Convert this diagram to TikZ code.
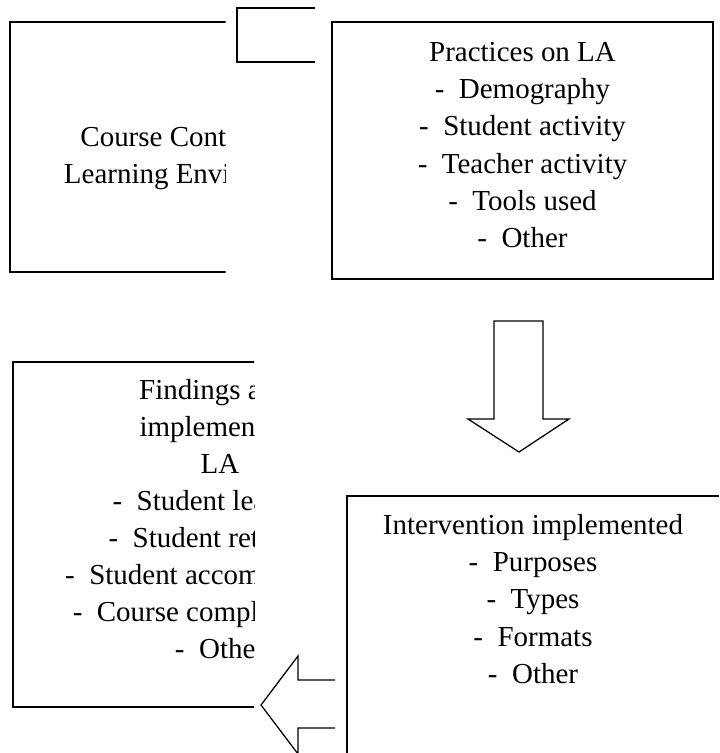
\documentclass[tikz,border=0pt]{standalone}
\usepackage{fontspec}
\setmainfont{Liberation Serif}
\newcommand{\dashitem}{-\hspace{0.5em}}

\begin{document}
\begin{tikzpicture}[x=0.025cm, y=-0.025cm,
  font=\fontsize{20.6pt}{26.4pt}\selectfont,
  box/.style={line width=1.4pt},
  blockarrow/.style={line width=0.9pt, line join=miter}]
\useasboundingbox (0,0) rectangle (719,753);

% context box, cut off on the right
\begin{scope}
\clip (0,0) rectangle (225.5,753);
\draw[box] (10,22) rectangle (388,272);
\node[align=center] (context) at (195.5,158) {Course Content and\\Learning Environment};
\end{scope}

% stub at the top
\draw[line width=1.8pt, black!45] (315,8) -- (237,8) -- (237,62) -- (315,62);
\draw[line width=0.9pt] (315,8) -- (237,8) -- (237,62) -- (315,62);

% practices box
\draw[box] (332,22) rectangle (713,279);
\node[align=center] (practices) at (522.5,145) {Practices on LA\\ \dashitem Demography\\ \dashitem Student activity\\ \dashitem Teacher activity\\ \dashitem Tools used\\ \dashitem Other};

% down arrow
\draw[blockarrow] (494,321) -- (543,321) -- (543,419) -- (569,419) -- (519,452) -- (468,419) -- (494,419) -- cycle;

% findings box, cut off on the right
\begin{scope}
\clip (0,0) rectangle (254,753);
\draw[box] (13,362) rectangle (427,707);
\node[align=center] (findings) at (220,519) {Findings after\\implementing\\LA\\ \dashitem Student learning\\ \dashitem Student retention\\ \dashitem Student accomplishment\\ \dashitem Course completion rate\\ \dashitem Other};
\end{scope}

% intervention box
\draw[box] (719,496) -- (347,496) -- (347,753);
\node[align=center] (intervention) at (533,599) {Intervention implemented\\ \dashitem Purposes\\ \dashitem Types\\ \dashitem Formats\\ \dashitem Other};

% left arrow
\draw[blockarrow] (335,680) -- (298,680) -- (298,656) -- (261,705) -- (298,754) -- (298,728) -- (335,728);
\end{tikzpicture}
\end{document}
